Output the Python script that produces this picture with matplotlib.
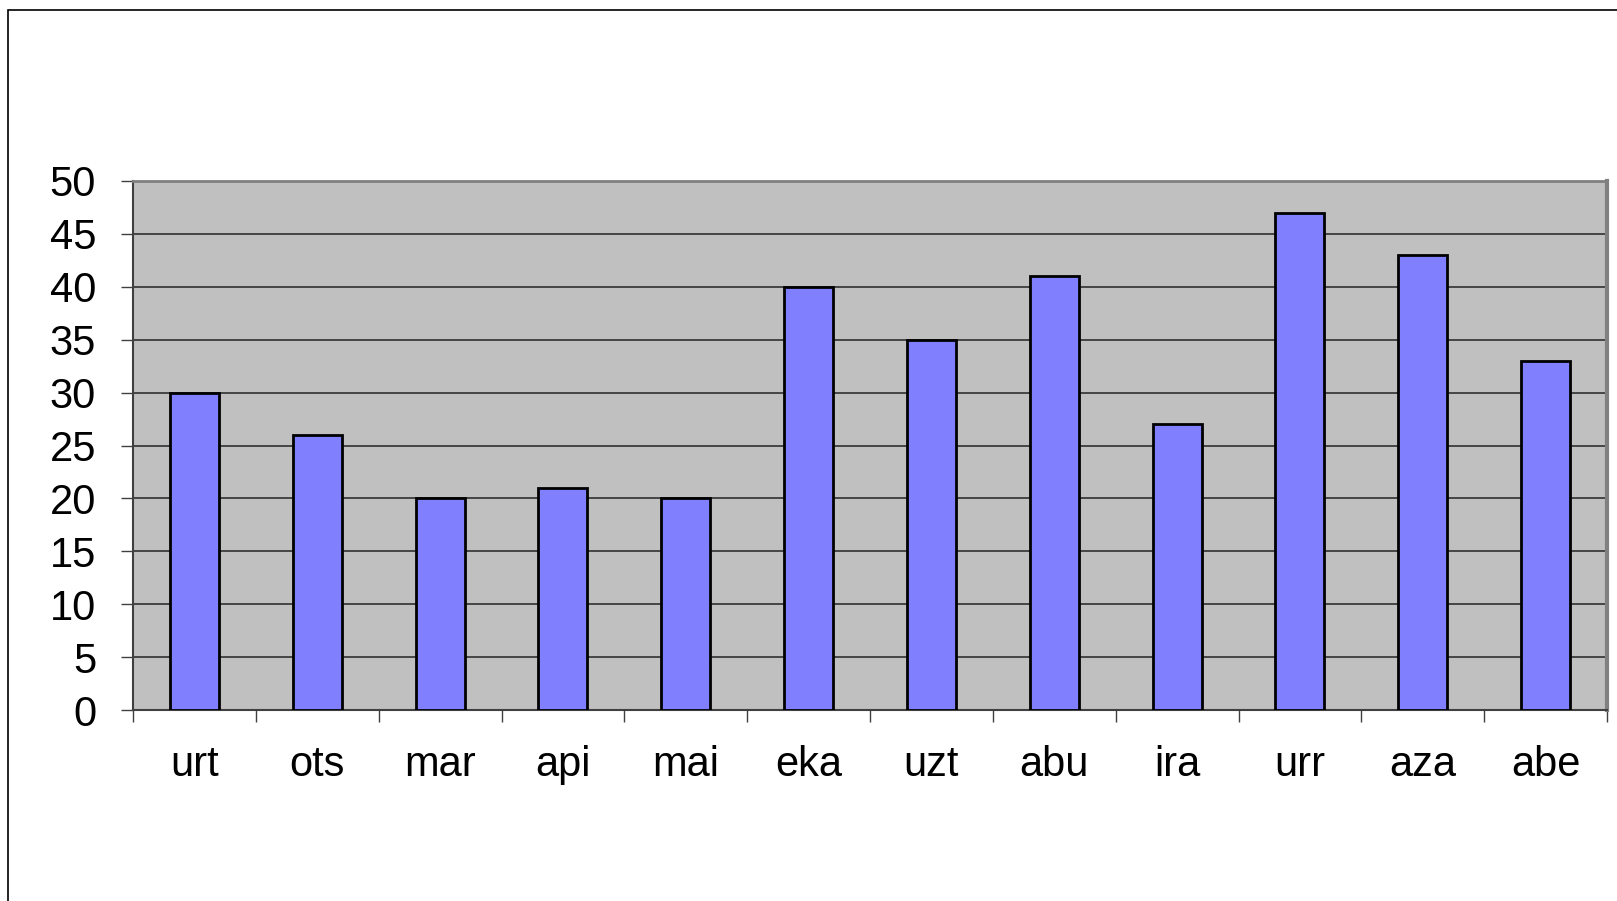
import matplotlib.pyplot as plt
import numpy as np
from matplotlib.patches import Rectangle

months = ['urt', 'ots', 'mar', 'api', 'mai', 'eka', 'uzt', 'abu', 'ira', 'urr', 'aza', 'abe']
values = [30, 26, 20, 21, 20, 40, 35, 41, 27, 47, 43, 33]

plt.rcParams['font.family'] = ['Liberation Sans', 'DejaVu Sans']

W, H = 1617, 901
fig = plt.figure(figsize=(W / 100, H / 100), dpi=100)
# outer chart frame (only left and top visible in the picture)
fig.patches.append(Rectangle((8 / W, -0.1), 1.2, 1 - 10 / H + 0.1, transform=fig.transFigure,
                             fill=False, edgecolor='black', linewidth=1.2))

ax = fig.add_axes([133 / W, 1 - 710 / H, (1607 - 133) / W, (710 - 181) / H])
ax.set_facecolor('#C0C0C0')

x = np.arange(len(months))
ax.bar(x, values, width=0.4, color='#8080FF', edgecolor='black', linewidth=2, zorder=3)

ax.set_xlim(-0.5, len(months) - 0.5)
ax.set_ylim(0, 50)
ax.set_yticks(np.arange(0, 51, 5))
ax.yaxis.grid(True, color='#303030', linewidth=1.2, zorder=1)
ax.set_axisbelow(True)

# tick marks on category boundaries, labels at category centres
ax.set_xticks(np.arange(-0.5, len(months), 1))
ax.set_xticklabels([])
ax.set_xticks(x, minor=True)
ax.set_xticklabels(months, minor=True)
ax.tick_params(axis='x', which='minor', length=0, pad=25, labelsize=30)
ax.tick_params(axis='x', which='major', length=8.6, width=1, color='#404040', direction='out')
ax.tick_params(axis='y', length=8.6, width=1, color='#404040', pad=18, labelsize=30)

for s in ['left', 'bottom']:
    ax.spines[s].set_color('#404040')
    ax.spines[s].set_linewidth(1.5)
ax.spines['top'].set_color('#808080')
ax.spines['top'].set_linewidth(2)
ax.spines['right'].set_color('#808080')
ax.spines['right'].set_linewidth(3)

fig.savefig('out.png', dpi=100)
